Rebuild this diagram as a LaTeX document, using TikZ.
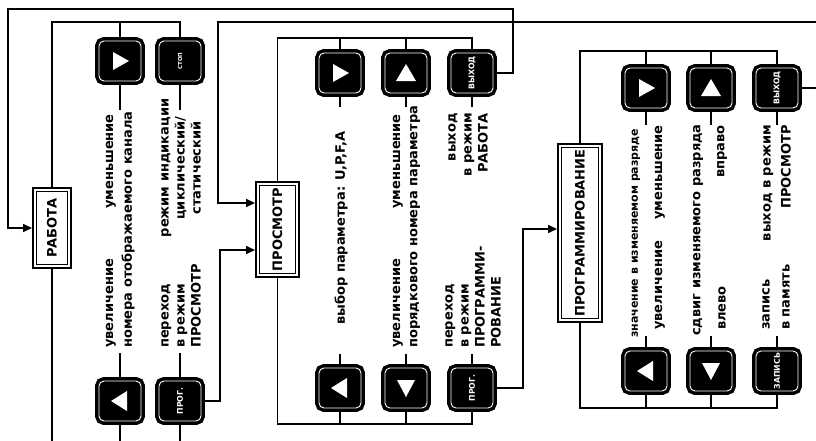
\documentclass[tikz,border=0pt]{standalone}
\usepackage{fontspec}
\setmainfont{DejaVu Sans}
\usetikzlibrary{arrows.meta}

\tikzset{
  key/.style={rectangle, rounded corners=5pt, fill=black, draw=black,
    line width=3.5pt, double=white, double distance=0.9pt,
    minimum width=42pt, minimum height=40pt, inner sep=0pt, outer sep=3.9pt,
    text=white, font=\bfseries\fontsize{7.8}{9}\selectfont},
  mode/.style={rectangle, draw=black, line width=1.6pt, double=white,
    double distance=2pt, inner sep=0pt, outer sep=2.6pt,
    font=\bfseries\fontsize{13}{16}\selectfont},
  lbl/.style={rotate=90, inner sep=0pt, font=\bfseries\fontsize{13}{16}\selectfont},
  wide/.style={font=\bfseries\fontsize{13}{20}\selectfont},
  small/.style={font=\bfseries\fontsize{11}{14}\selectfont},
  wire/.style={line width=1.6pt},
  feed/.style={wire, -{Triangle[length=9pt,width=8pt]}},
}

\begin{document}
\begin{tikzpicture}[x=1pt,y=-1pt]
  \useasboundingbox (0,0) rectangle (816,440);

  % mode boxes
  \node[mode, minimum width=34.8pt, minimum height=76.8pt] (work) at (52,228) {\rotatebox{90}{РАБОТА}};
  \node[mode, minimum width=39.8pt, minimum height=91.8pt] (view) at (277.5,229.5) {\rotatebox{90}{ПРОСМОТР}};
  \node[mode, minimum width=40.8pt, minimum height=174.8pt] (prog) at (580,233) {\rotatebox{90}{ПРОГРАММИРОВАНИЕ}};

  % keys
  \node[key] (w-right) at (120,61) {};
  \node[key] (w-stop) at (180,61) {\rotatebox{90}{\fontsize{5.5}{7}\selectfont СТОП}};
  \node[key] (w-left) at (120,401) {};
  \node[key] (w-prog) at (180,401) {\rotatebox{90}{ПРОГ.}};

  \node[key] (v-right) at (340,73) {};
  \node[key] (v-up) at (406,73) {};
  \node[key] (v-exit) at (472,73) {\rotatebox{90}{ВЫХОД}};
  \node[key] (v-left) at (340,388) {};
  \node[key] (v-down) at (406,388) {};
  \node[key] (v-prog) at (472,388) {\rotatebox{90}{ПРОГ.}};

  \node[key] (p-right) at (646,88) {};
  \node[key] (p-up) at (711,88) {};
  \node[key] (p-exit) at (777,88) {\rotatebox{90}{ВЫХОД}};
  \node[key] (p-left) at (646,371) {};
  \node[key] (p-down) at (711,371) {};
  \node[key] (p-save) at (777,371) {\rotatebox{90}{ЗАПИСЬ}};

  % arrow marks on keys
  \foreach \k in {w-right,v-right,p-right}
    \fill[white] (\k.center) ++(-7,-9) -- ++(16,9) -- ++(-16,9) -- cycle;
  \foreach \k in {w-left,v-left,p-left}
    \fill[white] (\k.center) ++(7,-10) -- ++(0,20) -- ++(-16,-10) -- cycle;
  \foreach \k in {v-up,p-up}
    \fill[white] (\k.center) ++(-10,8) -- ++(20,0) -- ++(-10,-17) -- cycle;
  \foreach \k in {v-down,p-down}
    \fill[white] (\k.center) ++(-9,-8) -- ++(18,0) -- ++(-9,17) -- cycle;

  % bus lines
  \coordinate (wbus) at (0,22);
  \coordinate (vbus) at (0,38);
  \coordinate (vlow) at (0,424);
  \coordinate (pbus) at (0,51);
  \coordinate (plow) at (0,408);
  \coordinate (cut) at (0,441);

  \draw[wire] (work.north) |- (w-stop.north |- wbus) -- (w-stop.north);
  \draw[wire] (w-right.north) -- (w-right.north |- wbus);
  \draw[wire] (work.south) -- (work.south |- cut);
  \draw[wire] (w-left.south) -- (w-left.south |- cut);
  \draw[wire] (w-prog.south) -- (w-prog.south |- cut);

  \draw[wire] (view.north) |- (v-exit.north |- vbus) -- (v-exit.north);
  \draw[wire] (v-right.north) -- (v-right.north |- vbus);
  \draw[wire] (v-up.north) -- (v-up.north |- vbus);
  \draw[wire] (view.south) |- (v-prog.south |- vlow) -- (v-prog.south);
  \draw[wire] (v-left.south) -- (v-left.south |- vlow);
  \draw[wire] (v-down.south) -- (v-down.south |- vlow);

  \draw[wire] (prog.north) |- (p-exit.north |- pbus) -- (p-exit.north);
  \draw[wire] (p-right.north) -- (p-right.north |- pbus);
  \draw[wire] (p-up.north) -- (p-up.north |- pbus);
  \draw[wire] (prog.south) |- (p-save.south |- plow) -- (p-save.south);
  \draw[wire] (p-left.south) -- (p-left.south |- plow);
  \draw[wire] (p-down.south) -- (p-down.south |- plow);

  % stems to the labels
  \foreach \k in {w-right,w-stop} \draw[wire] (\k.south) -- ++(0,25);
  \foreach \k in {w-left,w-prog} \draw[wire] (\k.north) -- ++(0,-24);
  \foreach \k in {v-right,v-up,v-exit} \draw[wire] (\k.south) -- ++(0,10);
  \foreach \k in {v-left,v-down,v-prog} \draw[wire] (\k.north) -- ++(0,-10);
  \foreach \k in {p-right,p-up,p-exit} \draw[wire] (\k.south) -- ++(0,13);
  \foreach \k in {p-left,p-down,p-save} \draw[wire] (\k.north) -- ++(0,-11);

  % mode changes
  \coordinate (loop) at (8,9);
  \coordinate (in1) at (0,250);
  \coordinate (in2) at (218,203);
  \coordinate (in3) at (0,229);
  \coordinate (edge2) at (817,22);
  \coordinate (edge3) at (817,88);
  \draw[feed] (v-exit.east) -- ++(16,0) |- (loop) |- (work.west);
  \draw[feed] (w-prog.east) -- ++(15,0) |- (view.west |- in1);
  \draw[feed] (edge2) -| (in2) -- (view.west |- in2);
  \draw[feed] (v-prog.east) -- ++(26,0) |- (prog.west |- in3);
  \draw[wire] (p-exit.east) -- (edge3);

  % labels
  \node[lbl, anchor=west] (t-inc1) at (111,348) {увеличение};
  \node[lbl, anchor=east] (t-dec1) at (111,114) {уменьшение};
  \node[lbl, anchor=west] (t-num1) at (128,348) {номера отображаемого канала};
  \node[lbl, anchor=west, align=left] (t-goview) at (181,348) {переход\\в режим\\ПРОСМОТР};
  \node[lbl, align=center] (t-stop) at (181,168) {режим индикации\\циклический/\\статический};

  \node[lbl] (t-param) at (341,228) {выбор параметра: U,P,F,A};
  \node[lbl, anchor=west] (t-inc2) at (398,348) {увеличение};
  \node[lbl, anchor=east] (t-dec2) at (398,114) {уменьшение};
  \node[lbl, anchor=west] (t-num2) at (415,348) {порядкового номера параметра};
  \node[lbl, anchor=west, align=left] (t-goprog) at (473,348) {переход\\в режим\\ПРОГРАММИ-\\РОВАНИЕ};
  \node[lbl, anchor=east, align=right] (t-gowork) at (468,113) {выход\\в режим\\РАБОТА};

  \node[lbl, small, anchor=west] (t-val) at (636,338) {значение в изменяемом разряде};
  \node[lbl, anchor=west] (t-inc3) at (660,330) {увеличение};
  \node[lbl, anchor=east] (t-dec3) at (660,125) {уменьшение};
  \node[lbl, anchor=west] (t-shift) at (698,336) {сдвиг изменяемого разряда};
  \node[lbl, anchor=west] (t-left) at (722,330) {влево};
  \node[lbl, anchor=east] (t-right) at (722,125) {вправо};
  \node[lbl, wide, anchor=west, align=left] (t-save) at (776,330) {запись\\в память};
  \node[lbl, wide, anchor=east, align=right] (t-goview2) at (777,125) {выход в режим\\ПРОСМОТР};
\end{tikzpicture}
\end{document}
